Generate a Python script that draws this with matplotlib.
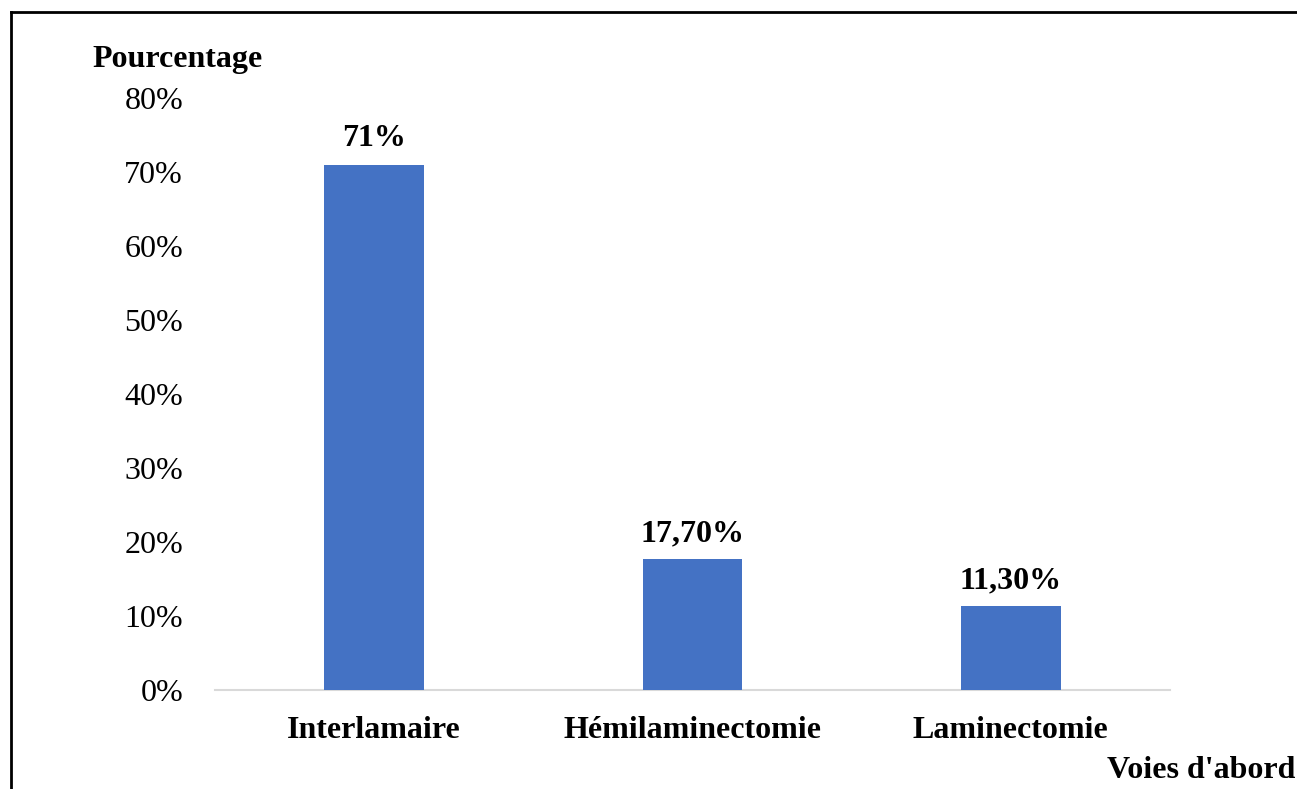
import matplotlib
matplotlib.use("Agg")
import matplotlib.pyplot as plt
from matplotlib.lines import Line2D

categories = ["Interlamaire", "Hémilaminectomie", "Laminectomie"]
values = [71, 17.7, 11.3]
value_labels = ["71%", "17,70%", "11,30%"]
yticks = [0, 10, 20, 30, 40, 50, 60, 70, 80]
ytick_labels = [f"{v}%" for v in yticks]

plt.rcParams['font.family'] = ['Liberation Serif', 'DejaVu Serif']

W, H = 1297, 789
FS = 23
fig = plt.figure(figsize=(W / 100, H / 100), dpi=100)
ax = fig.add_axes([215 / W, 1 - 690 / H, (1170 - 215) / W, (690 - 98) / H])

x = range(len(categories))
bars = ax.bar(x, values, width=0.314, color="#4472C4", zorder=3)
ax.set_xlim(-0.5, 2.5)
ax.set_ylim(0, 80)
ax.set_yticks(yticks)
ax.set_yticklabels(ytick_labels, fontsize=FS)
ax.set_xticks(list(x))
ax.set_xticklabels(categories, fontsize=FS, fontweight="bold")
ax.tick_params(axis="both", length=0)
ax.tick_params(axis="y", pad=23)
ax.tick_params(axis="x", pad=18.5)
for s in ["top", "right", "left"]:
    ax.spines[s].set_visible(False)
ax.spines["bottom"].set_color("#D9D9D9")
ax.spines["bottom"].set_linewidth(1.5)

for b, lab in zip(bars, value_labels):
    ax.annotate(lab, (b.get_x() + b.get_width() / 2, b.get_height()),
                xytext=(0, 8), textcoords="offset points",
                ha="center", va="bottom", fontsize=FS, fontweight="bold")

fig.text(92 / W, 1 - 59 / H, "Pourcentage", fontsize=FS, fontweight="bold",
         ha="left", va="center")
fig.text(1295 / W, 1 - 771 / H, "Voies d'abord", fontsize=FS, fontweight="bold",
         ha="right", va="center")

# figure border (left and top)
fig.add_artist(Line2D([11 / W, 11 / W], [0, 1 - 12 / H], color="black", lw=2,
                      transform=fig.transFigure))
fig.add_artist(Line2D([11 / W, 1], [1 - 12 / H, 1 - 12 / H], color="black", lw=2,
                      transform=fig.transFigure))

fig.savefig("out.png", dpi=100)
